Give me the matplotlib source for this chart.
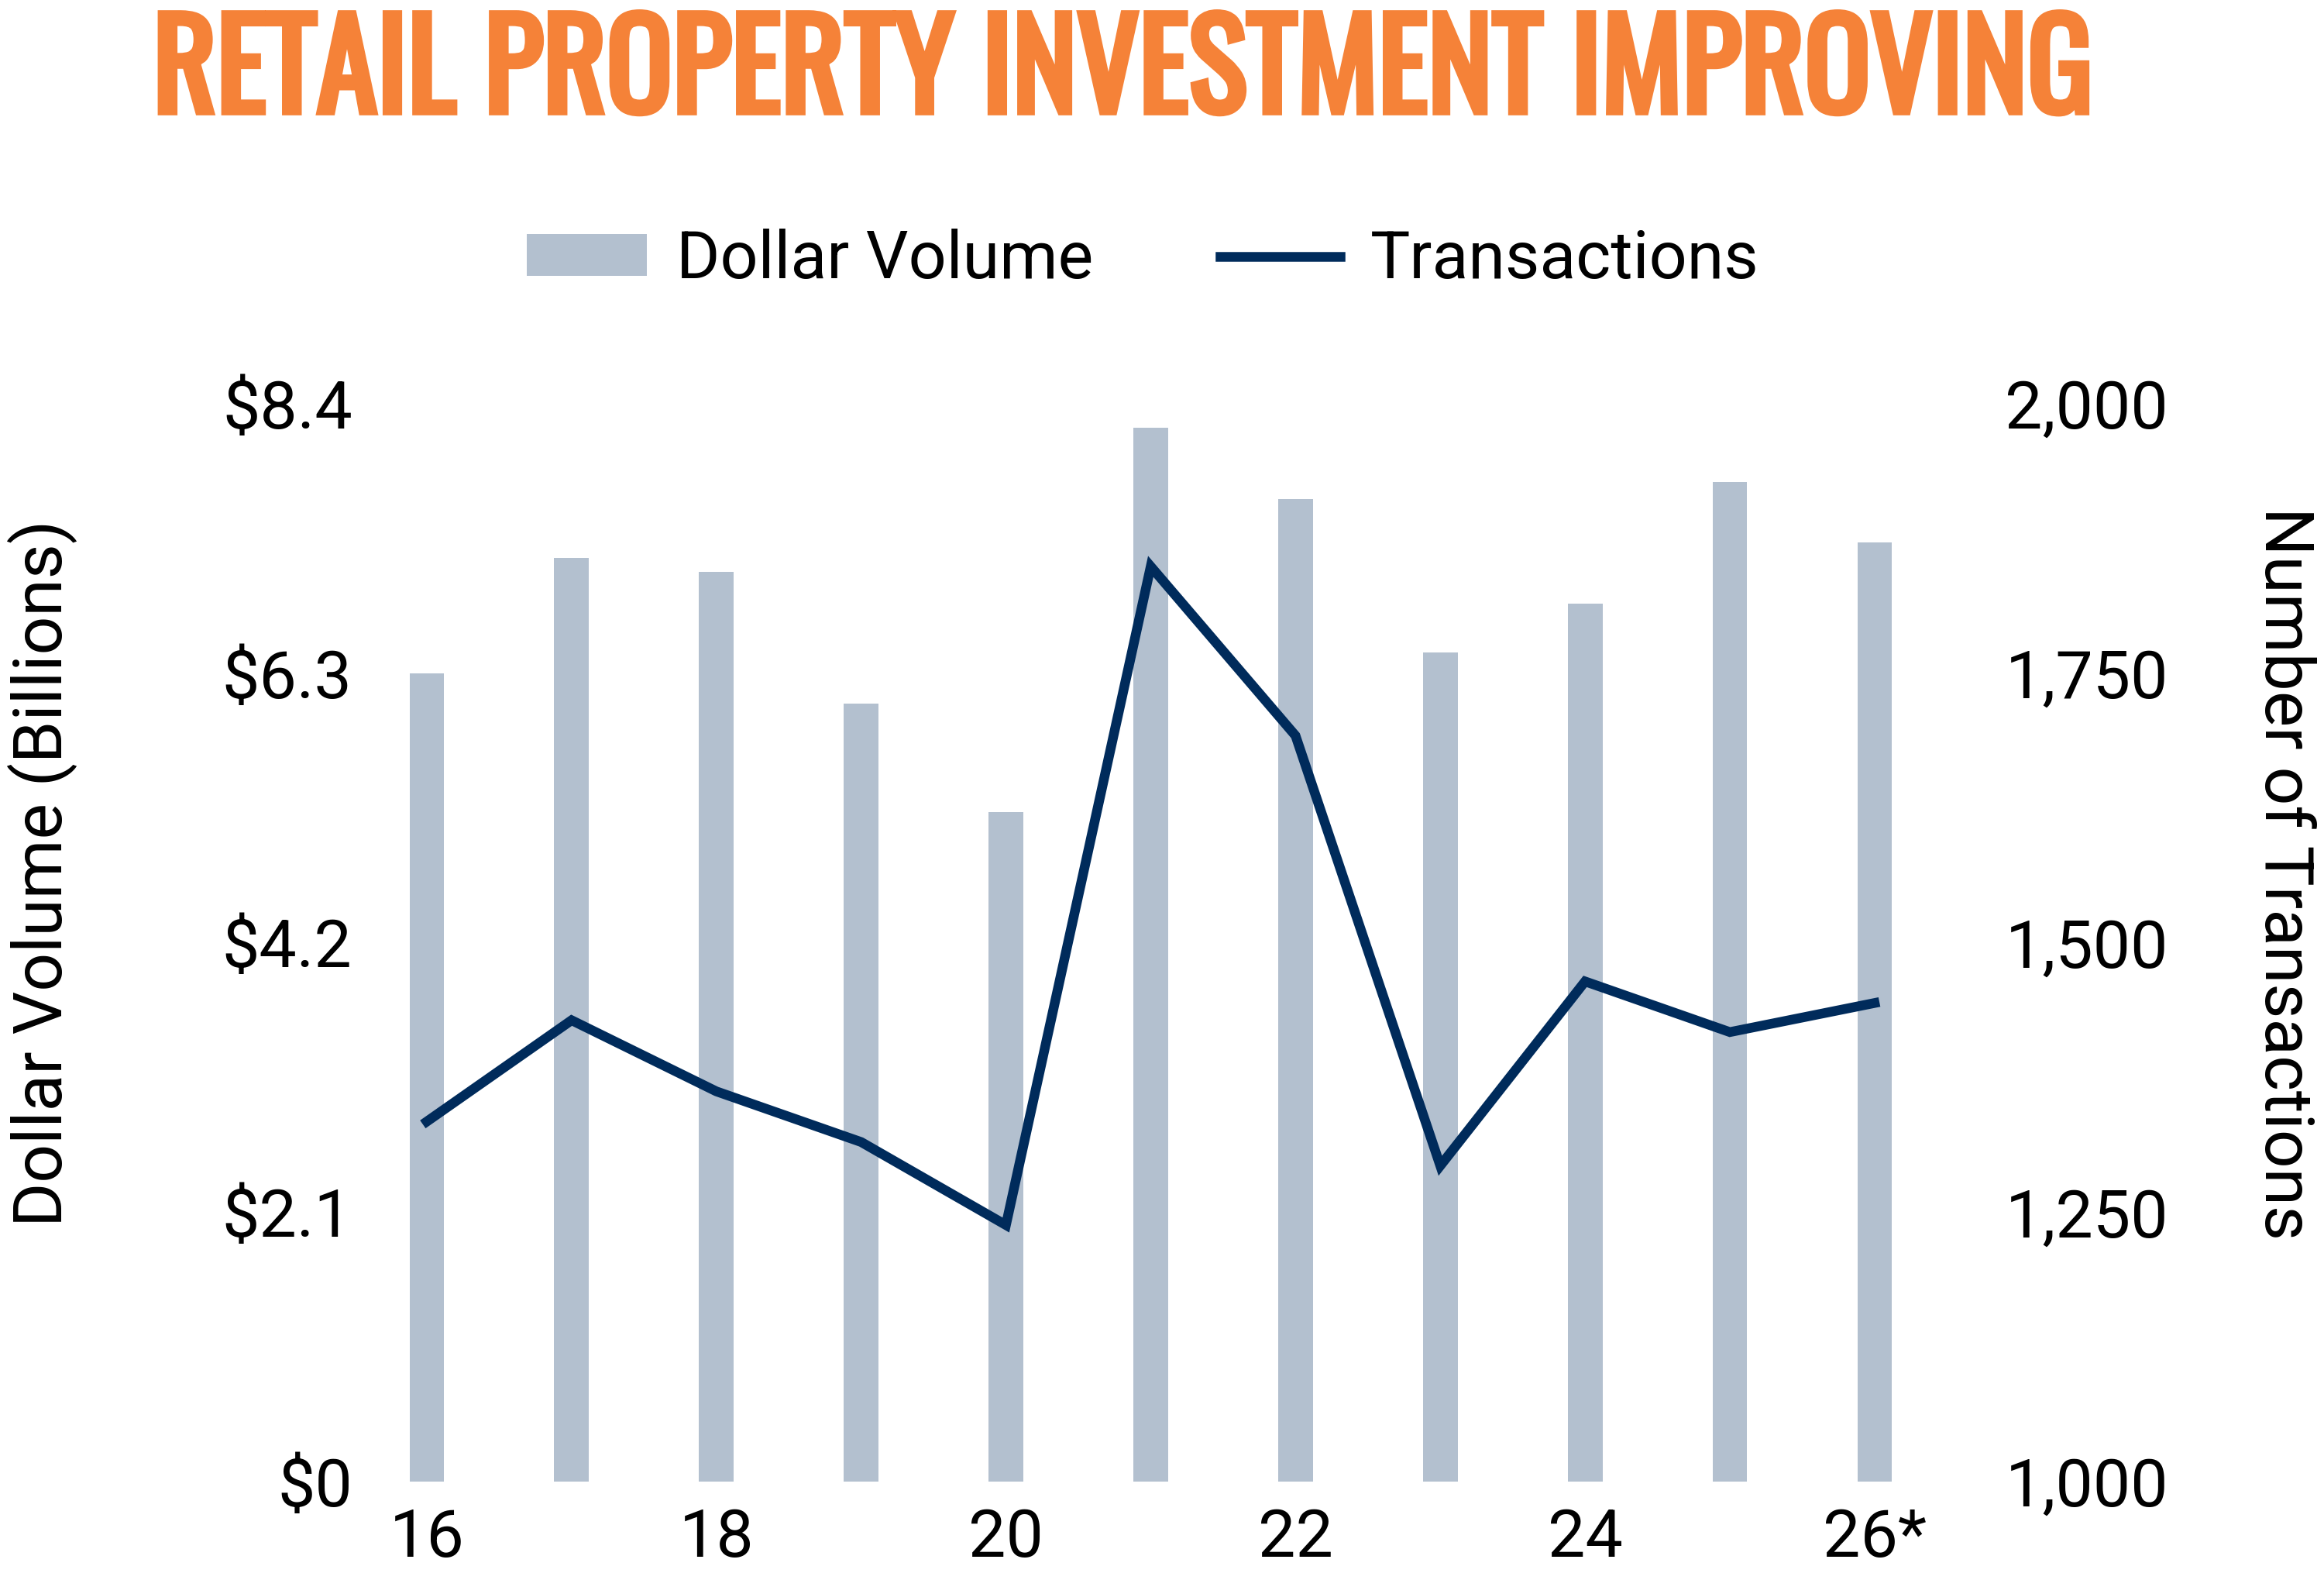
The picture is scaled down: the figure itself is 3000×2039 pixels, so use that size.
import matplotlib
matplotlib.use("Agg")
import matplotlib.pyplot as plt
from matplotlib import font_manager, patheffects
from matplotlib.patches import Patch
from matplotlib.lines import Line2D
from matplotlib.ticker import FuncFormatter

# data
years = ["16", "17", "18", "19", "20", "21", "22", "23", "24", "25", "26*"]
dollar_volume = [6.30, 7.20, 7.09, 6.06, 5.22, 8.21, 7.66, 6.46, 6.84, 7.79, 7.32]
transactions = [1334, 1428, 1362, 1315, 1238, 1849, 1692, 1293, 1464, 1417, 1444]
left_ticks = [0, 2.1, 4.2, 6.3, 8.4]
right_ticks = [1000, 1250, 1500, 1750, 2000]

bar_color = "#B3C0CF"
line_color = "#002B5B"
title_color = "#F58238"

plt.rcParams['font.family'] = ['Roboto', 'DejaVu Sans']
fs = 62

# title is a heavy condensed face: take the heaviest Oswald file there is
title_prop = font_manager.FontProperties(family='Roboto', weight='bold')
title_weight = 700
oswald = [f for f in font_manager.fontManager.ttflist if f.name == 'Oswald']
if oswald:
    best = max(oswald, key=lambda f: f.weight if isinstance(f.weight, int) else 400)
    title_prop = font_manager.FontProperties(fname=best.fname)
    title_weight = best.weight if isinstance(best.weight, int) else 400

fig = plt.figure(figsize=(30, 20.39), dpi=100)
ax = fig.add_axes([0.1525, 0.0623, 0.6853, 0.6822])
ax2 = ax.twinx()

x = list(range(len(years)))
ax.bar(x, dollar_volume, width=0.24, color=bar_color, zorder=1)
ax2.plot(x, transactions, color=line_color, lw=9, solid_joinstyle='miter', zorder=3)

ax.set_xlim(-0.5, len(years) - 0.5)
ax.set_ylim(0, 8.4)
ax.set_yticks(left_ticks)
ax.set_yticklabels(["$0" if v == 0 else "${:.1f}".format(v) for v in left_ticks])
ax.set_xticks(x[::2])
ax.set_xticklabels(years[::2])
ax2.set_ylim(1000, 2000)
ax2.set_yticks(right_ticks)
ax2.yaxis.set_major_formatter(FuncFormatter(lambda v, p: "{:,.0f}".format(v)))

ax.tick_params(axis='y', length=0, pad=2, labelsize=fs)
ax.tick_params(axis='x', length=0, pad=24, labelsize=fs)
ax2.tick_params(axis='y', length=0, pad=54, labelsize=fs)
for a in (ax, ax2):
    for s in a.spines.values():
        s.set_visible(False)

fig.text(0.0183, 1 - 1127 / 2039, "Dollar Volume (Billions)", rotation=90,
         ha='center', va='center', fontsize=63)
fig.text(0.9826, 1 - 1127 / 2039, "Number of Transactions", rotation=-90,
         ha='center', va='center', fontsize=63)

title = fig.text(0.4833, 1 - 145 / 2039, "RETAIL PROPERTY INVESTMENT IMPROVING",
                 ha='center', va='baseline', fontproperties=title_prop,
                 fontsize=100, color=title_color)
if title_weight < 600:
    # only a light file available: thicken the strokes
    title.set_path_effects([patheffects.withStroke(linewidth=5.5, foreground=title_color,
                                                   capstyle='butt', joinstyle='miter')])
# fit the title to the width it has in the original (about 2535 px)
fig.canvas.draw()
w = title.get_window_extent().width
title.set_fontsize(100 * 2505 / w)

handles = [Patch(facecolor=bar_color, edgecolor='none'),
           Line2D([0], [0], color=line_color, lw=9)]
fig.legend(handles, ["Dollar Volume", "Transactions"], loc='center',
           bbox_to_anchor=(0.4917, 1 - 336 / 2039), ncol=2, frameon=False,
           fontsize=fs, handlelength=1.8, handleheight=0.6,
           handletextpad=0.45, columnspacing=1.9)

fig.savefig("out.png", dpi=100)
